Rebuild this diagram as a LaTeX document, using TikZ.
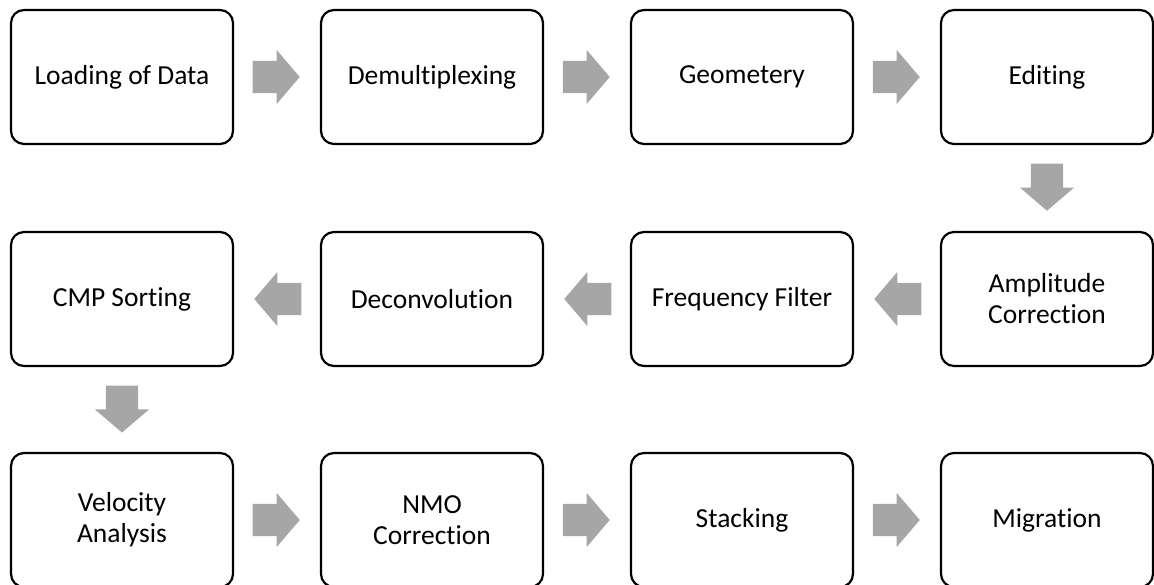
\documentclass[tikz,border=0pt]{standalone}
\usepackage{fontspec}
\setmainfont{Carlito}[Ligatures=NoCommon]
\usetikzlibrary{shapes.arrows}

\begin{document}
\begin{tikzpicture}[x=1pt, y=1pt]

\definecolor{stepcolor}{RGB}{0, 0, 0}
\definecolor{flowcolor}{RGB}{166, 166, 166}

\tikzset{
  procbox/.style={draw=stepcolor, line width=2.2pt, rounded corners=13pt,
    minimum width=222pt, minimum height=134pt, inner sep=0pt, align=center,
    font=\fontsize{27.5}{31}\selectfont},
  lastbox/.style={procbox, minimum width=212pt},
  flowarrow/.style={single arrow, fill=flowcolor, draw=none,
    inner xsep=0pt, inner ysep=16pt,
    minimum height=47pt, single arrow head extend=11pt,
    single arrow tip angle=99, sloped, allow upside down,
    pos=0.215, anchor=tail}
}

\clip (0, 0) rectangle (1154, 584);

\node[procbox] (load) at (122, 507) {Loading of Data};
\node[procbox] (demux) at (432, 507) {Demultiplexing};
\node[procbox] (geom) at (742, 507) {Geometery};
\node[lastbox] (edit) at (1047, 507) {Editing};

\node[lastbox] (ampl) at (1047, 285) {Amplitude\\Correction};
\node[procbox] (freq) at (742, 285) {Frequency Filter};
\node[procbox] (decon) at (432, 285) {Deconvolution};
\node[procbox] (cmp) at (122, 285) {CMP Sorting};

\node[procbox] (velo) at (122, 64) {Velocity\\Analysis};
\node[procbox] (nmo) at (432, 64) {NMO\\Correction};
\node[procbox] (stack) at (742, 64) {Stacking};
\node[lastbox] (migr) at (1047, 64) {Migration};

\path (load.east) -- (demux.west) node[flowarrow] (a1) {};
\path (demux.east) -- (geom.west) node[flowarrow] (a2) {};
\path (geom.east) -- (edit.west) node[flowarrow] (a3) {};
\path (edit.south) -- (ampl.north) node[flowarrow] (a4) {};
\path (ampl.west) -- (freq.east) node[flowarrow] (a5) {};
\path (freq.west) -- (decon.east) node[flowarrow] (a6) {};
\path (decon.west) -- (cmp.east) node[flowarrow] (a7) {};
\path (cmp.south) -- (velo.north) node[flowarrow] (a8) {};
\path (velo.east) -- (nmo.west) node[flowarrow] (a9) {};
\path (nmo.east) -- (stack.west) node[flowarrow] (a10) {};
\path (stack.east) -- (migr.west) node[flowarrow] (a11) {};

\end{tikzpicture}
\end{document}
